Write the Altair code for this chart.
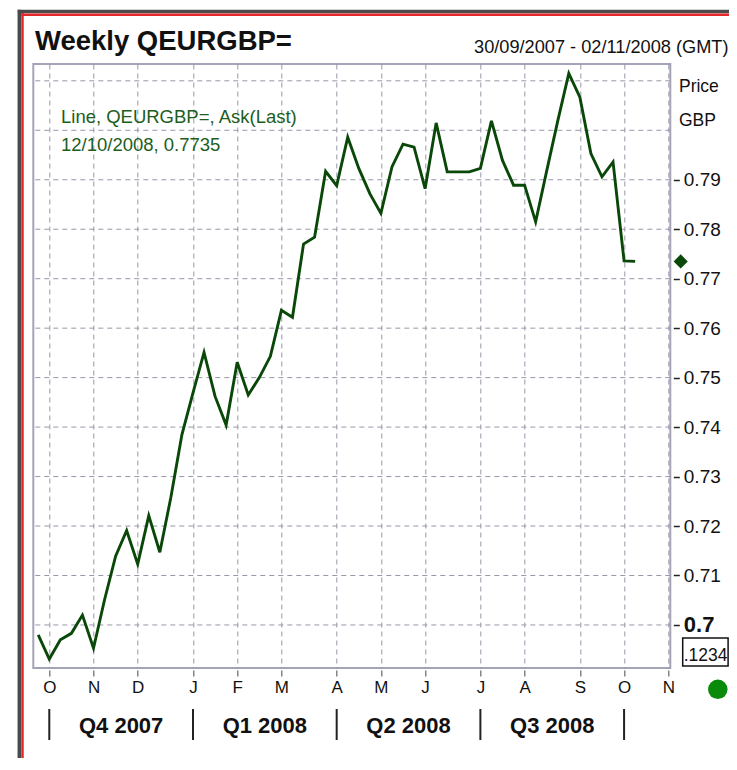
import altair as alt
import pandas as pd

# ---------------- data ----------------
week_dates = [
    "2007-09-30", "2007-10-07", "2007-10-14", "2007-10-21", "2007-10-28",
    "2007-11-04", "2007-11-11", "2007-11-18", "2007-11-25",
    "2007-12-02", "2007-12-09", "2007-12-16", "2007-12-23", "2007-12-30",
    "2008-01-06", "2008-01-13", "2008-01-20", "2008-01-27",
    "2008-02-03", "2008-02-10", "2008-02-17", "2008-02-24",
    "2008-03-02", "2008-03-09", "2008-03-16", "2008-03-23", "2008-03-30",
    "2008-04-06", "2008-04-13", "2008-04-20", "2008-04-27",
    "2008-05-04", "2008-05-11", "2008-05-18", "2008-05-25",
    "2008-06-01", "2008-06-08", "2008-06-15", "2008-06-22", "2008-06-29",
    "2008-07-06", "2008-07-13", "2008-07-20", "2008-07-27",
    "2008-08-03", "2008-08-10", "2008-08-17", "2008-08-24", "2008-08-31",
    "2008-09-07", "2008-09-14", "2008-09-21", "2008-09-28",
    "2008-10-05", "2008-10-12",
]
prices = [
    0.6980, 0.6931, 0.6970, 0.6983, 0.7020,
    0.6953, 0.7051, 0.7139, 0.7191,
    0.7123, 0.7221, 0.7147, 0.7258, 0.7385,
    0.7469, 0.7551, 0.7462, 0.7404,
    0.7531, 0.7465, 0.7500, 0.7543,
    0.7636, 0.7622, 0.7770, 0.7784, 0.7917,
    0.7888, 0.7986, 0.7923, 0.7872,
    0.7832, 0.7926, 0.7972, 0.7966,
    0.7882, 0.8015, 0.7916, 0.7916, 0.7916,
    0.7923, 0.8019, 0.7939, 0.7889,
    0.7889, 0.7815, 0.7918, 0.8019, 0.8115,
    0.8067, 0.7953, 0.7906, 0.7936,
    0.7736, 0.7735,
]
grid_prices = [0.70, 0.71, 0.72, 0.73, 0.74, 0.75, 0.76, 0.77, 0.78, 0.79, 0.80, 0.81]
tick_prices = [0.70, 0.71, 0.72, 0.73, 0.74, 0.75, 0.76, 0.77, 0.78, 0.79]
month_ticks = [
    "2007-10-07", "2007-11-04", "2007-12-02", "2008-01-06", "2008-02-03",
    "2008-03-02", "2008-04-06", "2008-05-04", "2008-06-01", "2008-07-06",
    "2008-08-03", "2008-09-07", "2008-10-05", "2008-11-02",
]
quarter_bounds = ["2007-10-07", "2008-01-06", "2008-04-06", "2008-07-06", "2008-10-05"]
quarter_labels = ["Q4 2007", "Q1 2008", "Q2 2008", "Q3 2008"]
x_domain = ["2007-09-26T21:00", "2008-11-03T06:30"]
y_domain = [0.6913, 0.8134]

title_text = "Weekly QEURGBP="
range_text = "30/09/2007 - 02/11/2008 (GMT)"
legend_line1 = "Line, QEURGBP=, Ask(Last)"
price_label = "Price"
ccy_label = "GBP"
box_text = ".1234"


def ms(s):
    return int(pd.Timestamp(s).value // 10**6)


df = pd.DataFrame({"date": week_dates, "price": prices})
last = df.iloc[[-1]].copy()
last_d = pd.Timestamp(week_dates[-1])
legend_line2 = f"{last_d.day:02d}/{last_d.month:02d}/{last_d.year}, {prices[-1]:.4f}"

grid_df = pd.DataFrame({"price": grid_prices})
qb = pd.to_datetime(quarter_bounds)
q_df = pd.DataFrame({
    "label": quarter_labels,
    "date": [(qb[i] + (qb[i + 1] - qb[i]) / 2).strftime("%Y-%m-%dT%H:%M") for i in range(len(quarter_labels))],
})
qb_df = pd.DataFrame({"date": quarter_bounds})
one = pd.DataFrame({"k": [0]})

FONT = "Liberation Sans, Arial, sans-serif"
LINE_GREEN = "#0a480a"
TEXT_GREEN = "#1d5e1d"
GRID = "#9797a8"

xscale = alt.Scale(type="utc", domain=[ms(d) for d in x_domain])
yscale = alt.Scale(domain=y_domain, nice=False, zero=False)

X_AX = alt.Axis(
    orient="bottom", values=[ms(d) for d in month_ticks],
    labelExpr="slice(utcFormat(datum.value, '%b'), 0, 1)",
    grid=True, gridDash=[5, 4], gridColor=GRID, gridWidth=1,
    domain=False, offset=2, tickSize=6, tickColor="#666", tickWidth=1.2,
    labelFont=FONT, labelFontSize=17, labelColor="#111", labelPadding=4,
    labelAlign="center", labelFlush=False, labelOverlap=False, title=None,
)
Y_AX = alt.Axis(
    orient="right", values=tick_prices, grid=False, domain=False,
    offset=3, tickSize=6, tickColor="#222", tickWidth=1.5,
    labelFont=FONT, labelColor="#111", labelPadding=4,
    labelFontSize={"condition": {"test": "datum.value < 0.705", "value": 22}, "value": 19},
    labelFontWeight={"condition": {"test": "datum.value < 0.705", "value": "bold"}, "value": "normal"},
    format=".2~f", labelOverlap=False, labelFlush=False, title=None,
)

hgrid = alt.Chart(grid_df).mark_rule(color=GRID, strokeWidth=1, strokeDash=[5, 4]).encode(
    y=alt.Y("price:Q", scale=yscale, axis=Y_AX)
)

line = alt.Chart(df).mark_line(color=LINE_GREEN, strokeWidth=2.9, clip=True).encode(
    x=alt.X("date:T", scale=xscale, axis=X_AX),
    y=alt.Y("price:Q", scale=yscale, axis=Y_AX),
)

diamond = alt.Chart(last).mark_point(shape="diamond", filled=True, size=200, color=LINE_GREEN, opacity=1).encode(
    x=alt.value(647.4),
    y=alt.Y("price:Q", scale=yscale, axis=Y_AX),
)

q_sep = alt.Chart(qb_df).mark_rule(color="#222", strokeWidth=2).encode(
    x=alt.X("date:T", scale=xscale, axis=X_AX),
    y=alt.value(645), y2=alt.value(676),
)
q_text = alt.Chart(q_df).mark_text(font=FONT, fontSize=22, fontWeight="bold", color="#111", baseline="alphabetic", align="center").encode(
    x=alt.X("date:T", scale=xscale, axis=X_AX),
    y=alt.value(669.5),
    text="label:N",
)


def label(text, x, y, size, color="#111", weight="normal", align="left"):
    return alt.Chart(one).mark_text(
        text=text, font=FONT, fontSize=size, fontWeight=weight, color=color,
        align=align, baseline="alphabetic",
    ).encode(x=alt.value(x), y=alt.value(y))


texts = [
    label(title_text, 1.7, -14.5, 27.5, weight="bold"),
    label(range_text, 695.2, -11.5, 18.2, align="right"),
    label(legend_line1, 27.7, 59, 18.5, color=TEXT_GREEN),
    label(legend_line2, 27.7, 87, 18.5, color=TEXT_GREEN),
    label(price_label, 645.7, 27.5, 17.5),
    label(ccy_label, 645.7, 62, 17.5),
    label(box_text, 672.3, 597, 17.5, align="center"),
]

box = alt.Chart(one).mark_rect(fill="white", stroke="#111", strokeWidth=1.5).encode(
    x=alt.value(649.4), x2=alt.value(694.8), y=alt.value(574), y2=alt.value(602)
)
circle = alt.Chart(one).mark_point(shape="circle", filled=True, size=380, color="#0a8a0a", opacity=1).encode(
    x=alt.value(684.5), y=alt.value(625.3)
)

frame_top_gray = alt.Chart(one).mark_rule(color="#4a4a4a", strokeWidth=3.5).encode(
    x=alt.value(-15.5), x2=alt.value(700), y=alt.value(-52.5)
)
frame_top_red = alt.Chart(one).mark_rule(color="#e3262a", strokeWidth=2.5).encode(
    x=alt.value(-12), x2=alt.value(700), y=alt.value(-49.3)
)
frame_left_gray = alt.Chart(one).mark_rule(color="#4a4a4a", strokeWidth=3.5).encode(
    x=alt.value(-14), y=alt.value(-54.2), y2=alt.value(710)
)
frame_left_red = alt.Chart(one).mark_rule(color="#e3262a", strokeWidth=2.5).encode(
    x=alt.value(-10.8), y=alt.value(-51), y2=alt.value(710)
)

chart = alt.layer(
    hgrid, line, diamond, q_sep, q_text, box, circle,
    frame_top_gray, frame_top_red, frame_left_gray, frame_left_red,
    *texts,
).properties(
    width=637, height=604,
    autosize=alt.AutoSizeParams(type="none"),
    padding={"left": 25.3, "top": 56, "right": 58.5, "bottom": 90},
    background="white",
).configure_view(
    stroke="#a4a4b8", strokeWidth=2
)

chart.save("out.html", embed_options={"renderer": "svg", "actions": False})
